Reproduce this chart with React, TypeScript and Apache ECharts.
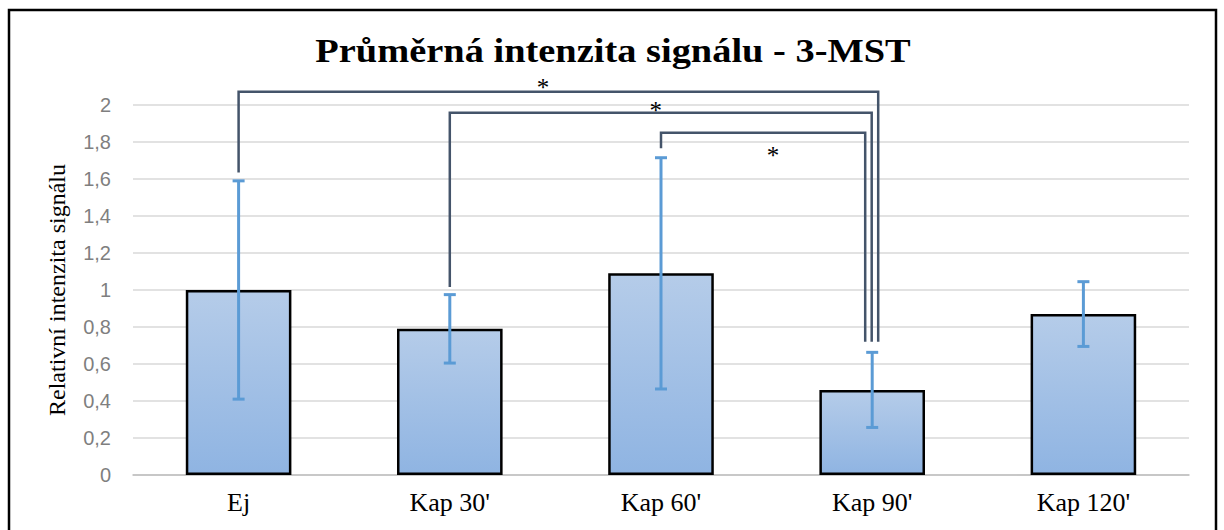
import React, { useEffect, useRef } from "react";
import * as echarts from "echarts";

const categories = ["Ej", "Kap 30'", "Kap 60'", "Kap 90'", "Kap 120'"];
const means = [1.0, 0.79, 1.09, 0.46, 0.87];
const errors = [0.59, 0.185, 0.625, 0.203, 0.175];
const yTickLabels = ["0", "0,2", "0,4", "0,6", "0,8", "1", "1,2", "1,4", "1,6", "1,8", "2"];
const titleText = "Průměrná intenzita signálu - 3-MST";

// significance brackets
const bracketFrom = [0, 1, 2];
const bracketTo = [3, 3, 3];
const bracketTop = [2.072, 1.958, 1.85];
const bracketLeftFoot = [1.635, 1.016, 1.766];
const bracketRightFoot = [0.72, 0.72, 0.72];
const starX = [1.441, 1.975, 2.53];
const starY = [2.12, 2.0, 1.753];

const bracketOffsets = [6, -0.5, -7];

export default function App() {
  const ref = useRef<HTMLDivElement>(null);
  useEffect(() => {
    if (!ref.current) return;
    const chart = echarts.init(ref.current, null, { renderer: "svg" });
    const errData = means.map((m, i) => [i, m - errors[i], m + errors[i]]);
    const bracketData = bracketFrom.map((f, i) => [
      f,
      bracketTo[i],
      bracketTop[i],
      bracketLeftFoot[i],
      bracketRightFoot[i],
    ]);
    const starData = starX.map((x, i) => [x, starY[i]]);
    chart.setOption({
      animation: false,
      backgroundColor: "#ffffff",
      graphic: [
        {
          type: "rect",
          shape: { x: 9, y: 10, width: 1207, height: 600 },
          style: { fill: "none", stroke: "#000000", lineWidth: 2.5 },
          silent: true,
        },
        {
          type: "text",
          x: 613,
          y: 51,
          scaleX: 1.13,
          style: {
            text: titleText,
            fontFamily: "Liberation Serif",
            fontWeight: "bold",
            fontSize: 34,
            fill: "#000000",
            align: "center",
            verticalAlign: "middle",
          },
          silent: true,
        },
      ],
      grid: { left: 133, right: 35, top: 105, bottom: 55 },
      xAxis: [
        {
          type: "category",
          data: categories,
          axisTick: { show: false },
          axisLine: { show: true, lineStyle: { color: "#bfbfbf", width: 1.5 } },
          axisLabel: {
            fontFamily: "Liberation Serif",
            fontSize: 26,
            color: "#000000",
            margin: 14,
          },
        },
        { type: "value", min: -0.5, max: 4.5, show: false },
      ],
      yAxis: {
        type: "value",
        min: 0,
        max: 2,
        interval: 0.2,
        name: "Relativní intenzita signálu",
        nameLocation: "middle",
        nameGap: 64,
        nameTextStyle: { fontFamily: "Liberation Serif", fontSize: 24, color: "#000000" },
        axisLine: { show: false },
        axisTick: { show: false },
        axisLabel: {
          fontFamily: "Liberation Sans",
          fontSize: 20,
          color: "#7f7f7f",
          margin: 22,
          formatter: (v: number) => yTickLabels[Math.round(v / 0.2)] ?? "",
        },
        splitLine: { lineStyle: { color: "#d9d9d9", width: 1.5 } },
      },
      series: [
        {
          type: "bar",
          data: means,
          barWidth: "50%",
          itemStyle: {
            color: new echarts.graphic.LinearGradient(0, 0, 0, 1, [
              { offset: 0, color: "#b5cce9" },
              { offset: 1, color: "#8fb4e2" },
            ]),
            borderColor: "#000000",
            borderWidth: 2.5,
          },
        },
        {
          type: "custom",
          xAxisIndex: 1,
          data: errData,
          clip: false,
          z: 5,
          renderItem: (params: any, api: any) => {
            const lo = api.coord([api.value(0), api.value(1)]);
            const hi = api.coord([api.value(0), api.value(2)]);
            const c = 6;
            const st = { stroke: "#5b9bd5", lineWidth: 3 };
            return {
              type: "group",
              children: [
                { type: "line", shape: { x1: lo[0], y1: lo[1], x2: hi[0], y2: hi[1] }, style: st },
                { type: "line", shape: { x1: lo[0] - c, y1: lo[1], x2: lo[0] + c, y2: lo[1] }, style: st },
                { type: "line", shape: { x1: hi[0] - c, y1: hi[1], x2: hi[0] + c, y2: hi[1] }, style: st },
              ],
            };
          },
        },
        {
          type: "custom",
          xAxisIndex: 1,
          data: bracketData,
          clip: false,
          z: 6,
          renderItem: (params: any, api: any) => {
            const i = params.dataIndex;
            const a = api.coord([api.value(0), api.value(3)]);
            const t = api.coord([api.value(0), api.value(2)]);
            const b = api.coord([api.value(1), api.value(4)]);
            const rx = b[0] + bracketOffsets[i];
            return {
              type: "polyline",
              shape: {
                points: [
                  [a[0], a[1]],
                  [a[0], t[1]],
                  [rx, t[1]],
                  [rx, b[1]],
                ],
              },
              style: { stroke: "#44546a", lineWidth: 2.5, fill: null },
            };
          },
        },
        {
          type: "custom",
          xAxisIndex: 1,
          data: starData,
          clip: false,
          z: 7,
          renderItem: (params: any, api: any) => {
            const p = api.coord([api.value(0), api.value(1)]);
            return {
              type: "text",
              x: p[0],
              y: p[1] + 5,
              style: {
                text: "*",
                fill: "#000000",
                fontFamily: "Liberation Serif",
                fontSize: 25,
                align: "center",
                verticalAlign: "middle",
              },
            };
          },
        },
      ],
    });
    return () => chart.dispose();
  }, []);
  return (
    <div
      ref={ref}
      style={{ position: "fixed", left: 0, top: 0, width: 1224, height: 530 }}
    />
  );
}
